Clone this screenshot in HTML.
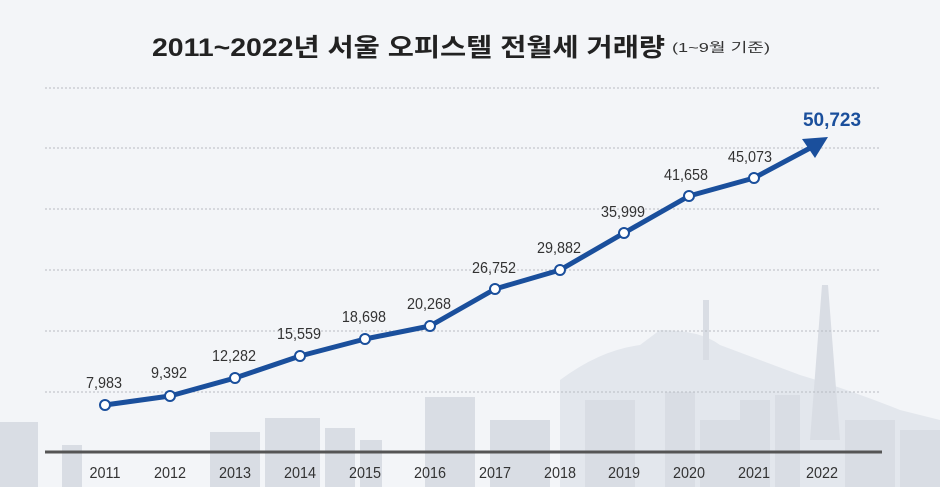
<!DOCTYPE html>
<html><head><meta charset="utf-8"><style>
html,body{margin:0;padding:0;background:#f3f5f8;}
svg{display:block}
text{font-family:"Liberation Sans","Noto Sans CJK KR",sans-serif;}
</style></head><body>
<svg width="940" height="487" viewBox="0 0 940 487" xmlns="http://www.w3.org/2000/svg">
<rect width="940" height="487" fill="#f3f5f8"/>
<g fill="#e3e7ed">
<path d="M560 380 Q600 350 640 345 L660 330 Q700 330 720 345 Q760 360 800 375 Q850 390 900 410 L940 420 L940 487 L560 487 Z"/>
</g>
<g fill="#d9dde4">
<rect x="0" y="422" width="38" height="65"/>
<rect x="62" y="445" width="20" height="42"/>
<rect x="210" y="432" width="50" height="55"/>
<rect x="265" y="418" width="55" height="69"/>
<rect x="325" y="428" width="30" height="59"/>
<rect x="360" y="440" width="22" height="47"/>
<rect x="425" y="397" width="50" height="90"/>
<rect x="490" y="420" width="60" height="67"/>
<rect x="585" y="400" width="50" height="87"/>
<rect x="665" y="392" width="30" height="95"/>
<rect x="700" y="420" width="40" height="67"/>
<rect x="740" y="400" width="30" height="87"/>
<rect x="775" y="395" width="25" height="92"/>
<path d="M810 440 L822 285 L828 285 L840 440 Z"/>
<rect x="845" y="420" width="50" height="67"/>
<rect x="900" y="430" width="40" height="57"/>
<rect x="703" y="300" width="6" height="60"/>
</g>
<text x="152" y="56" font-size="25" font-weight="bold" fill="#222" textLength="513" lengthAdjust="spacingAndGlyphs">2011~2022년 서울 오피스텔 전월세 거래량</text>
<text x="672" y="52" font-size="13" fill="#333" textLength="98" lengthAdjust="spacingAndGlyphs">(1~9월 기준)</text>
<g stroke="#b8bcc2" stroke-width="1" stroke-dasharray="2,2">
<line x1="45" y1="88" x2="880" y2="88"/>
<line x1="45" y1="148" x2="880" y2="148"/>
<line x1="45" y1="209" x2="880" y2="209"/>
<line x1="45" y1="270" x2="880" y2="270"/>
<line x1="45" y1="331" x2="880" y2="331"/>
<line x1="45" y1="392" x2="880" y2="392"/>
</g>
<line x1="45" y1="452" x2="882" y2="452" stroke="#555" stroke-width="3"/>
<polyline points="105,405 170,396 235,378 300,356 365,339 430,326 495,289 560,270 624,233 689,196 754,178 812,147" fill="none" stroke="#1a4f9c" stroke-width="5" stroke-linejoin="round"/>
<polygon points="828,137 802,139 815,158" fill="#1a4f9c"/>
<g fill="#fff" stroke="#1a4f9c" stroke-width="2">
<circle cx="105" cy="405" r="5"/><circle cx="170" cy="396" r="5"/><circle cx="235" cy="378" r="5"/>
<circle cx="300" cy="356" r="5"/><circle cx="365" cy="339" r="5"/><circle cx="430" cy="326" r="5"/>
<circle cx="495" cy="289" r="5"/><circle cx="560" cy="270" r="5"/><circle cx="624" cy="233" r="5"/>
<circle cx="689" cy="196" r="5"/><circle cx="754" cy="178" r="5"/>
</g>
<g font-size="16" fill="#333" text-anchor="middle" transform="scale(0.9,1)">
<text x="115.6" y="388">7,983</text><text x="187.8" y="378">9,392</text><text x="260" y="361">12,282</text>
<text x="332.2" y="339">15,559</text><text x="404.4" y="322">18,698</text><text x="476.7" y="309">20,268</text>
<text x="548.9" y="273">26,752</text><text x="621.1" y="253">29,882</text><text x="692.2" y="217">35,999</text>
<text x="762.2" y="180">41,658</text><text x="833.3" y="162">45,073</text>
</g>
<text x="832" y="126" font-size="19" font-weight="bold" fill="#1a4f9c" text-anchor="middle">50,723</text>
<g font-size="16" fill="#333" text-anchor="middle" transform="scale(0.9,1)">
<text x="116.7" y="478">2011</text><text x="188.9" y="478">2012</text><text x="261.1" y="478">2013</text>
<text x="333.3" y="478">2014</text><text x="405.6" y="478">2015</text><text x="477.8" y="478">2016</text>
<text x="550" y="478">2017</text><text x="622.2" y="478">2018</text><text x="693.3" y="478">2019</text>
<text x="765.6" y="478">2020</text><text x="837.8" y="478">2021</text><text x="913.3" y="478">2022</text>
</g>
</svg>
</body></html>
